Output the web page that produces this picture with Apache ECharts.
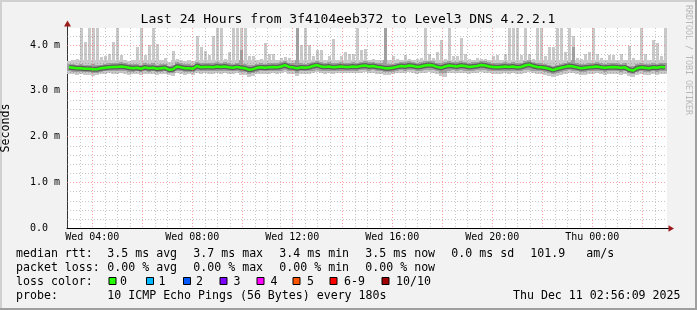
<!DOCTYPE html>
<html><head><meta charset="utf-8">
<script src="https://cdn.jsdelivr.net/npm/echarts@6/dist/echarts.min.js"></script>
<style>html,body{margin:0;padding:0;background:#f2f2f2;}#c{width:697px;height:310px;}</style>
</head><body><div id="c"></div>
<script>
// time range in hours since Wed 00:00
const startHour = 2.99, endHour = 26.99;
// median rtt (ms) per sample
const median = [3.51,3.50,3.49,3.49,3.48,3.48,3.47,3.47,3.49,3.50,
 3.51,3.52,3.52,3.53,3.52,3.50,3.49,3.50,3.48,3.51,
 3.49,3.50,3.48,3.49,3.50,3.46,3.47,3.53,3.51,3.49,
 3.49,3.48,3.54,3.51,3.52,3.52,3.51,3.53,3.52,3.53,
 3.51,3.50,3.52,3.50,3.49,3.46,3.47,3.50,3.51,3.50,
 3.51,3.52,3.51,3.53,3.56,3.52,3.51,3.49,3.51,3.50,
 3.51,3.54,3.56,3.53,3.52,3.53,3.51,3.52,3.53,3.52,
 3.52,3.53,3.52,3.54,3.55,3.53,3.54,3.52,3.51,3.49,
 3.49,3.50,3.52,3.54,3.53,3.55,3.54,3.52,3.53,3.55,
 3.56,3.55,3.52,3.50,3.53,3.55,3.54,3.53,3.55,3.54,
 3.52,3.53,3.54,3.56,3.55,3.53,3.52,3.51,3.52,3.53,
 3.52,3.53,3.51,3.52,3.55,3.57,3.54,3.52,3.51,3.50,
 3.48,3.45,3.48,3.50,3.52,3.54,3.53,3.51,3.49,3.50,
 3.51,3.52,3.53,3.51,3.50,3.51,3.52,3.51,3.50,3.51,
 3.46,3.44,3.49,3.51,3.50,3.49,3.51,3.50,3.52,3.51];
// lowest ping (light smoke bottom)
const smokeLow = [3.37,3.36,3.35,3.36,3.34,3.35,3.33,3.34,3.36,3.37,
 3.38,3.37,3.36,3.38,3.37,3.35,3.36,3.37,3.34,3.36,
 3.36,3.37,3.35,3.36,3.37,3.34,3.33,3.38,3.37,3.35,
 3.36,3.35,3.38,3.37,3.38,3.37,3.36,3.38,3.37,3.38,
 3.36,3.37,3.38,3.35,3.34,3.31,3.33,3.36,3.37,3.37,
 3.37,3.38,3.37,3.38,3.40,3.37,3.36,3.32,3.36,3.37,
 3.36,3.38,3.40,3.38,3.37,3.38,3.37,3.38,3.39,3.38,
 3.38,3.39,3.38,3.39,3.40,3.38,3.39,3.37,3.36,3.34,
 3.35,3.36,3.38,3.39,3.38,3.40,3.39,3.37,3.38,3.39,
 3.40,3.39,3.37,3.32,3.29,3.38,3.39,3.38,3.39,3.38,
 3.37,3.38,3.39,3.40,3.39,3.38,3.37,3.36,3.37,3.38,
 3.37,3.38,3.36,3.37,3.39,3.40,3.38,3.37,3.36,3.35,
 3.33,3.30,3.33,3.35,3.37,3.39,3.38,3.36,3.34,3.35,
 3.36,3.37,3.38,3.36,3.35,3.36,3.37,3.36,3.35,3.36,
 3.32,3.31,3.34,3.36,3.35,3.34,3.36,3.35,3.37,3.36];
// dense smoke bottom
const bandLow = [3.42,3.41,3.40,3.41,3.40,3.40,3.39,3.39,3.41,3.42,
 3.43,3.43,3.42,3.43,3.42,3.41,3.41,3.42,3.40,3.42,
 3.41,3.42,3.40,3.41,3.42,3.39,3.39,3.43,3.42,3.41,
 3.41,3.40,3.44,3.42,3.43,3.43,3.42,3.44,3.43,3.44,
 3.42,3.42,3.43,3.41,3.40,3.37,3.39,3.41,3.42,3.42,
 3.42,3.43,3.42,3.44,3.46,3.43,3.42,3.39,3.42,3.42,
 3.42,3.44,3.46,3.44,3.43,3.44,3.42,3.43,3.44,3.43,
 3.43,3.44,3.43,3.45,3.46,3.44,3.45,3.43,3.42,3.40,
 3.40,3.41,3.43,3.45,3.44,3.46,3.45,3.43,3.44,3.45,
 3.46,3.45,3.43,3.39,3.38,3.44,3.45,3.44,3.45,3.44,
 3.43,3.44,3.45,3.46,3.45,3.44,3.43,3.42,3.43,3.44,
 3.43,3.44,3.42,3.43,3.45,3.46,3.44,3.43,3.42,3.41,
 3.39,3.36,3.39,3.41,3.43,3.45,3.44,3.42,3.40,3.41,
 3.42,3.43,3.44,3.42,3.41,3.42,3.43,3.42,3.41,3.42,
 3.38,3.37,3.40,3.42,3.41,3.40,3.42,3.41,3.43,3.42];
// dense smoke top
const bandHigh = [3.59,3.58,3.57,3.58,3.57,3.56,3.58,3.56,3.57,3.58,
 3.60,3.61,3.60,3.62,3.60,3.58,3.58,3.59,3.57,3.60,
 3.58,3.60,3.57,3.58,3.59,3.55,3.56,3.62,3.60,3.58,
 3.58,3.57,3.63,3.60,3.61,3.60,3.60,3.62,3.61,3.62,
 3.60,3.59,3.61,3.90,3.58,3.56,3.57,3.59,3.60,3.59,
 3.60,3.61,3.60,3.62,3.64,3.61,3.60,4.40,3.60,3.59,
 3.60,3.63,3.65,3.62,3.61,3.62,3.60,3.61,3.62,3.61,
 3.61,3.62,3.61,3.63,3.64,3.62,3.63,3.61,3.60,4.40,
 3.58,3.59,3.61,3.63,3.62,3.64,3.63,3.61,3.62,3.64,
 3.65,3.64,3.61,3.60,3.62,3.64,3.63,3.62,3.64,3.63,
 3.61,3.62,3.63,3.65,3.64,3.62,3.61,3.60,3.61,3.62,
 3.61,3.62,3.60,3.61,3.64,3.66,3.63,3.61,3.60,3.59,
 3.57,3.54,3.57,3.59,3.61,3.63,3.95,3.60,3.58,3.59,
 3.60,3.61,3.62,3.60,3.59,3.60,3.61,3.60,3.59,3.60,
 3.55,3.53,3.58,3.60,3.59,3.58,3.60,3.59,3.61,3.60];
// highest ping (light smoke top, spikes)
const smokeHigh = [3.64,3.66,3.69,4.40,4.06,4.40,4.40,4.40,3.74,3.75,
 3.80,4.07,4.40,3.78,3.66,3.64,3.68,3.96,4.40,3.78,
 4.00,4.40,4.02,3.66,3.72,3.62,3.87,3.70,3.66,3.64,
 3.66,3.64,4.20,3.96,3.87,3.78,4.20,4.40,4.40,3.70,
 3.85,4.40,4.40,4.40,4.40,3.75,3.75,3.68,3.70,4.05,
 3.80,3.80,3.68,3.72,3.74,3.72,3.68,4.40,4.00,4.40,
 4.00,3.75,3.90,3.90,3.68,3.75,4.13,3.68,3.75,3.85,
 3.80,3.80,4.40,3.90,3.91,3.68,3.70,3.67,3.66,4.40,
 3.66,3.75,3.70,3.68,3.77,3.70,3.68,3.70,3.72,4.40,
 3.80,3.72,3.85,4.10,3.70,4.40,3.75,3.75,4.15,3.80,
 3.70,3.68,3.72,3.70,3.70,3.68,3.75,3.78,3.68,3.80,
 4.40,4.40,4.40,3.78,4.40,3.80,3.70,4.40,4.40,3.75,
 3.95,3.95,4.40,4.40,3.85,4.40,4.20,3.72,3.70,3.80,
 3.85,4.40,3.80,3.72,3.68,3.78,3.78,3.68,3.80,3.66,
 3.98,3.72,3.66,4.40,3.80,3.68,4.10,4.05,3.75,4.40];

const xLabelHours = [4, 8, 12, 16, 20, 24];
const xLabels = ['Wed 04:00','Wed 08:00','Wed 12:00','Wed 16:00','Wed 20:00','Thu 00:00'];
const yMajor = [1, 2, 3, 4];
const yMinorStep = 0.2;
const xMajorStep = 2, xMinorStep = 0.5;

const title = 'Last 24 Hours from 3f4104eeb372 to Level3 DNS 4.2.2.1';
const legendRows = [
  [['median rtt:',16],['3.5 ms avg',107.3],['3.7 ms max',193.3],['3.4 ms min',279.3],['3.5 ms now',365.3],['0.0 ms sd',451.3],['101.9',530.3],['am/s',586.3]],
  [['packet loss:',16],['0.00 % avg',107.3],['0.00 % max',193.3],['0.00 % min',279.3],['0.00 % now',365.3]],
  [['loss color:',16]],
  [['probe:',16],['10 ICMP Echo Pings (56 Bytes) every 180s',107.3]]
];
const lossLabels = ['0','1','2','3','4','5','6-9','10/10'];
const lossColors = ['#26ff00','#00b8ff','#0059ff','#7e00ff','#ff00ff','#ff5500','#ff0000','#a10000'];
const lossBoxX = [108.5,146,183,219.5,256.5,292.5,329.5,381.5];
const lossTextX = [120,158.5,196,233.5,270.5,307,344,396];
const stamp = 'Thu Dec 11 02:56:09 2025';

const N = median.length;
const step = (endHour - startHour) / N;
const tStart = median.map((_, i) => startHour + i * step);
const FONT = '"DejaVu Sans Mono", monospace';
const SPIKE_FROM = 3.68;   // above this, smoke is drawn as a thin spike
const SPIKE_PX = 2.6;

function bandRender(color) {
  return function (params, api) {
    const cs = params.coordSys;
    const t = api.value(0), a = api.value(1), b = api.value(2);
    const pa = api.coord([t, a]), pb = api.coord([t, b]);
    const pc = api.coord([t, Math.min(b, SPIKE_FROM)]);
    const x0 = Math.round(pa[0]), x1 = Math.round(api.coord([t + step, a])[0]);
    const yBot = Math.round(Math.min(pa[1], cs.y + cs.height));
    const yCut = Math.round(pc[1]);
    const yTop = Math.round(Math.max(pb[1], cs.y));
    const children = [{ type: 'rect', shape: { x: x0, y: yCut, width: x1 - x0, height: yBot - yCut }, style: { fill: color } }];
    if (b > SPIKE_FROM) {
      const cx = (x0 + x1) / 2;
      const sx = Math.round(cx - SPIKE_PX / 2);
      children.push({ type: 'rect', shape: { x: sx, y: yTop, width: Math.round(SPIKE_PX + 0.4), height: yCut - yTop }, style: { fill: color } });
    }
    return { type: 'group', children: children };
  };
}
function vLine(color) {
  return function (params, api) {
    const cs = params.coordSys;
    const x = Math.round(api.coord([api.value(0), 0])[0]) + 0.5;
    return { type: 'line', shape: { x1: x, y1: cs.y, x2: x, y2: cs.y + cs.height }, style: { stroke: color, lineWidth: 1, lineDash: [1, 2] } };
  };
}
function hLine(color) {
  return function (params, api) {
    const cs = params.coordSys;
    const y = Math.round(api.coord([startHour, api.value(1)])[1]) + 0.5;
    return { type: 'line', shape: { x1: cs.x, y1: y, x2: cs.x + cs.width, y2: y }, style: { stroke: color, lineWidth: 1, lineDash: [1, 2] } };
  };
}

const xMajorLines = [], xMinorLines = [];
for (let h = Math.ceil(startHour / xMinorStep) * xMinorStep; h < endHour; h += xMinorStep) {
  if (h - startHour < 0.1) continue;
  if (Math.abs(h / xMajorStep - Math.round(h / xMajorStep)) < 1e-6) xMajorLines.push([h, 0]);
  else xMinorLines.push([h, 0]);
}
const yMinorLines = [];
for (let k = 1; k * yMinorStep < 4.37; k++) {
  const v = +(k * yMinorStep).toFixed(2);
  if (yMajor.indexOf(v) < 0) yMinorLines.push([startHour, v]);
}
const yMajorLines = yMajor.map(v => [startHour, v]);

const chart = echarts.init(document.getElementById('c'), null, { renderer: 'canvas' });
const graphics = [
  { type: 'rect', shape: { x: 0, y: 0, width: 697, height: 2 }, style: { fill: '#d0d0d0' }, silent: true },
  { type: 'rect', shape: { x: 0, y: 0, width: 2, height: 310 }, style: { fill: '#d0d0d0' }, silent: true },
  { type: 'rect', shape: { x: 695, y: 0, width: 2, height: 310 }, style: { fill: '#9f9f9f' }, silent: true },
  { type: 'rect', shape: { x: 0, y: 308, width: 697, height: 2 }, style: { fill: '#9f9f9f' }, silent: true },
  { type: 'text', style: { text: title, x: 348, y: 19.3, font: '13px ' + FONT, fill: '#000', align: 'center', verticalAlign: 'middle' }, silent: true },
  { type: 'text', rotation: -Math.PI / 2, x: 688, y: 5, style: { text: 'RRDTOOL / TOBI OETIKER', x: 0, y: 0, font: '8.3px ' + FONT, fill: '#b8b8b8', align: 'left', verticalAlign: 'middle' }, silent: true },
  { type: 'text', style: { text: stamp, x: 680.5, y: 296.2, font: '11.6px ' + FONT, fill: '#000', align: 'right', verticalAlign: 'middle' }, silent: true }
];
const rowY = [254.2, 268.4, 282.2, 296.2];
legendRows.forEach((row, r) => row.forEach(([txt, x]) => graphics.push({ type: 'text', style: { text: txt, x: x, y: rowY[r], font: '11.6px ' + FONT, fill: '#000', align: 'left', verticalAlign: 'middle' }, silent: true })));
lossLabels.forEach((lab, i) => {
  graphics.push({ type: 'rect', shape: { x: lossBoxX[i] + 0.5, y: 277.5, width: 7, height: 7 }, style: { fill: lossColors[i], stroke: '#000', lineWidth: 1 }, silent: true });
  graphics.push({ type: 'text', style: { text: lab, x: lossTextX[i], y: rowY[2], font: '11.6px ' + FONT, fill: '#000', align: 'left', verticalAlign: 'middle' }, silent: true });
});

chart.setOption({
  animation: false,
  backgroundColor: '#f2f2f2',
  grid: { left: 67, top: 28, width: 600, height: 200, show: true, backgroundColor: '#ffffff', borderWidth: 0, containLabel: false, outerBoundsMode: 'none' },
  xAxis: {
    type: 'value', min: startHour, max: endHour,
    splitLine: { show: false }, axisTick: { show: false },
    axisLine: { show: true, lineStyle: { color: '#000', width: 1 } },
    axisLabel: { customValues: xLabelHours, formatter: v => xLabels[xLabelHours.indexOf(v)] || '', color: '#000', fontFamily: '"DejaVu Sans Mono"', fontSize: 10, margin: 4 }
  },
  yAxis: {
    type: 'value', min: 0, max: 4.37, interval: 1,
    name: 'Seconds', nameLocation: 'middle', nameGap: 55.5,
    nameTextStyle: { color: '#000', fontFamily: '"DejaVu Sans Mono"', fontSize: 11.6 },
    splitLine: { show: false }, axisTick: { show: false },
    axisLine: { show: true, lineStyle: { color: '#333', width: 1 } },
    axisLabel: { interval: 0, showMaxLabel: false, color: '#000', fontFamily: '"DejaVu Sans Mono"', fontSize: 10, margin: 7,
      formatter: v => (Math.abs(v - Math.round(v)) > 1e-6 ? '' : (v === 0 ? '0.0\u00a0\u00a0' : v.toFixed(1) + ' m')) }
  },
  series: [
    { type: 'custom', name: 'smoke', silent: true, z: 1, clip: true, encode: { x: 0, y: [1, 2] },
      data: tStart.map((t, i) => [t, smokeLow[i], smokeHigh[i]]), renderItem: bandRender('#c9c9c9') },
    { type: 'custom', name: 'band', silent: true, z: 2, clip: true, encode: { x: 0, y: [1, 2] },
      data: tStart.map((t, i) => [t, bandLow[i], bandHigh[i]]), renderItem: bandRender('#a0a0a0') },
    { type: 'line', name: 'core', silent: true, z: 3, showSymbol: false, symbol: 'none',
      data: median.map((v, i) => [tStart[i] + step / 2, v]), lineStyle: { color: '#505050', width: 5, opacity: 0.85 } },
    { type: 'custom', silent: true, z: 4, encode: { x: 0, y: 1 }, data: xMinorLines, renderItem: vLine('rgba(130,130,130,0.45)') },
    { type: 'custom', silent: true, z: 4, encode: { x: 0, y: 1 }, data: yMinorLines, renderItem: hLine('rgba(130,130,130,0.45)') },
    { type: 'custom', silent: true, z: 4, encode: { x: 0, y: 1 }, data: xMajorLines, renderItem: vLine('rgba(255,95,95,0.6)') },
    { type: 'custom', silent: true, z: 4, encode: { x: 0, y: 1 }, data: yMajorLines, renderItem: hLine('rgba(255,95,95,0.6)') },
    { type: 'line', name: 'median', silent: true, z: 5, showSymbol: false, symbol: 'none',
      data: median.map((v, i) => [tStart[i] + step / 2, v]), lineStyle: { color: '#26ff00', width: 2.5 } }
  ],
  graphic: graphics
});

// axis arrows, placed from the library's own coordinate conversion
const pOrigin = chart.convertToPixel({ gridIndex: 0 }, [startHour, 0]);
const pTop = chart.convertToPixel({ gridIndex: 0 }, [startHour, 4.37]);
const pRight = chart.convertToPixel({ gridIndex: 0 }, [endHour, 0]);
const ax = Math.round(pOrigin[0]) + 0.5, ay = Math.round(pOrigin[1]) + 0.5;
graphics.push(
  { type: 'line', shape: { x1: ax, y1: pTop[1], x2: ax, y2: pTop[1] - 3 }, style: { stroke: '#333', lineWidth: 1 }, silent: true },
  { type: 'polygon', shape: { points: [[ax, pTop[1] - 7.5], [ax - 3.5, pTop[1] - 1.5], [ax + 3.5, pTop[1] - 1.5]] }, style: { fill: '#9c1c1c' }, silent: true },
  { type: 'line', shape: { x1: pRight[0], y1: ay, x2: pRight[0] + 3, y2: ay }, style: { stroke: '#000', lineWidth: 1 }, silent: true },
  { type: 'polygon', shape: { points: [[pRight[0] + 7, ay], [pRight[0] + 1.5, ay - 3.3], [pRight[0] + 1.5, ay + 3.3]] }, style: { fill: '#9c1c1c' }, silent: true }
);
chart.setOption({ graphic: graphics });
</script></body></html>
